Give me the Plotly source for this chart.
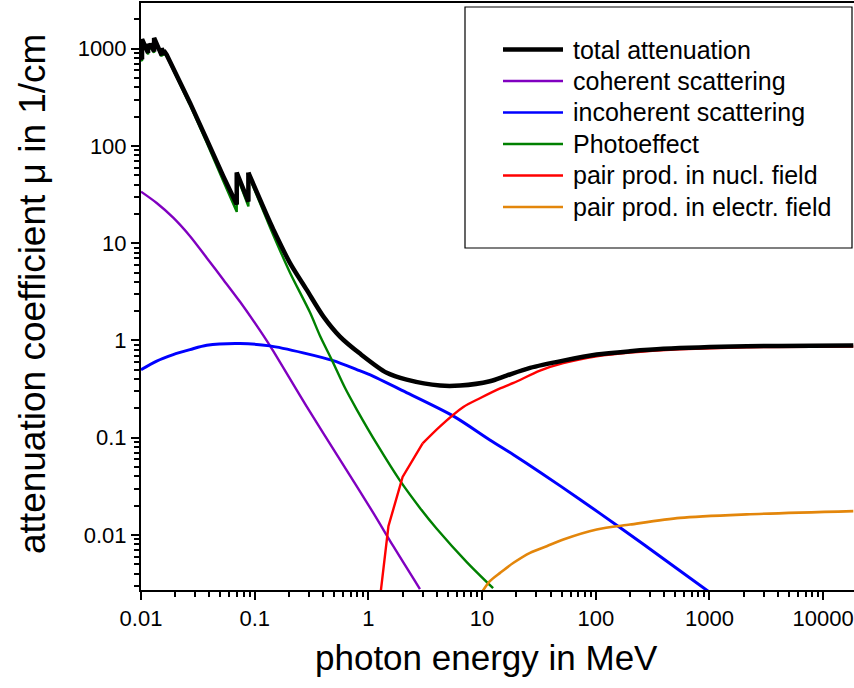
import plotly.graph_objects as go

# ---------------- data (photon energy in MeV, attenuation coefficient in 1/cm) ----------------
E_total = [0.0100, 0.01021, 0.01021, 0.01154, 0.01154, 0.01210, 0.01210, 0.01304, 0.01304,
           0.01520, 0.01520, 0.01586, 0.01586, 0.0168, 0.027, 0.0379, 0.053, 0.0695, 0.0695,
           0.088, 0.088, 0.1276, 0.146, 0.204, 0.286, 0.401, 0.562, 0.843, 1.45, 2.17, 4.27,
           6.40, 11.7, 16.4, 26.4, 51.8, 101.9, 200, 392.6, 2123, 18400]
mu_total = [810, 780, 1250, 905, 1120, 1010, 1130, 935, 1290,
            855, 1010, 870, 960, 867, 277, 116, 48.7, 25, 53.2,
            26.8, 53.2, 19.5, 13.8, 6.28, 3.33, 1.77, 1.097, 0.733, 0.465, 0.396, 0.344,
            0.344, 0.381, 0.436, 0.523, 0.621, 0.716, 0.774, 0.820, 0.871, 0.887]

E_coh = [0.01, 0.01374, 0.0192, 0.027, 0.0379, 0.053, 0.0743, 0.1042, 0.1365, 0.286,
         0.562, 1.104, 1.656, 2.84]
mu_coh = [33.9, 25.9, 18.3, 11.8, 7.06, 4.22, 2.50, 1.42, 0.88, 0.21,
          0.0597, 0.0169, 0.00767, 0.00278]

E_incoh = [0.01, 0.0136, 0.0192, 0.027, 0.0379, 0.0743, 0.136, 0.267, 0.49, 0.79, 1.0, 2.0,
           5.55, 11.7, 19.0, 32.3, 72.6, 163, 393, 975]
mu_incoh = [0.50, 0.611, 0.716, 0.805, 0.893, 0.929, 0.88, 0.746, 0.62, 0.502, 0.45, 0.305,
            0.168, 0.095, 0.0666, 0.0443, 0.0232, 0.01195, 0.00571, 0.00264]

E_photo = [0.0100, 0.01021, 0.01021, 0.01154, 0.01154, 0.01210, 0.01210, 0.01304, 0.01304,
           0.01520, 0.01520, 0.01586, 0.01586, 0.0168, 0.027, 0.0379, 0.053, 0.0695, 0.0695,
           0.088, 0.088, 0.1276, 0.146, 0.204, 0.306, 0.375, 0.475, 0.622, 0.79, 1.22, 1.89,
           2.84, 3.99, 7.33, 12.5]
mu_photo = [776, 746, 1216, 874, 1089, 980, 1100, 907, 1262,
            831, 986, 847, 937, 844, 263, 108, 43.4, 21, 49.5,
            23.9, 50.3, 17.6, 12.1, 5.0, 1.95, 1.12, 0.637, 0.326, 0.195, 0.0818, 0.0364,
            0.0190, 0.0116, 0.00527, 0.00284]

E_pair_nuc = [1.25, 1.5, 2.0, 3.0, 4.27, 6.84, 9.57, 14.4, 18.9, 32.3, 51.8, 101.9, 200,
              551, 2123, 18400]
mu_pair_nuc = [0.002, 0.0123, 0.0395, 0.0875, 0.131, 0.207, 0.255, 0.322, 0.366, 0.49,
               0.584, 0.686, 0.75, 0.81, 0.853, 0.868]

E_pair_el = [10.0, 11.7, 14.4, 18.9, 26.4, 37.0, 51.8, 101.9, 200, 551, 2123, 18400]
mu_pair_el = [0.0026, 0.00335, 0.00408, 0.00518, 0.00656, 0.00767, 0.0090, 0.0114, 0.0128,
              0.0150, 0.0163, 0.0176]

names = ["total attenuation", "coherent scattering", "incoherent scattering",
         "Photoeffect", "pair prod. in nucl. field", "pair prod. in electr. field"]

x_tick_vals = [0.01, 0.1, 1, 10, 100, 1000, 10000]
x_tick_text = ["0.01", "0.1", "1", "10", "100", "1000", "10000"]
y_tick_vals = [0.01, 0.1, 1, 10, 100, 1000]
y_tick_text = ["0.01", "0.1", "1", "10", "100", "1000"]

# ---------------- styles ----------------
colors = ["#000000", "#8000C0", "#0000FF", "#008000", "#FF0000", "#E3860B"]
widths = [4.5, 2.4, 3.0, 2.4, 2.4, 2.6]
FONT = "Liberation Sans, Arial, sans-serif"

series = [
    (E_total, mu_total), (E_coh, mu_coh), (E_incoh, mu_incoh),
    (E_photo, mu_photo), (E_pair_nuc, mu_pair_nuc), (E_pair_el, mu_pair_el),
]
# index where the smooth (edge-free) part of each series begins; before it: straight segments
smooth_from = [20, 0, 0, 20, 3, 0]

fig = go.Figure()
# coloured components first, total on top
for i in [1, 2, 3, 4, 5, 0]:
    E, mu = series[i]
    s = smooth_from[i]
    if s > 0:
        fig.add_trace(go.Scatter(x=E[:s + 1], y=mu[:s + 1], mode="lines", name=names[i],
                                 showlegend=False,
                                 line=dict(color=colors[i], width=widths[i], simplify=False)))
    fig.add_trace(go.Scatter(x=E[s:], y=mu[s:], mode="lines", name=names[i], showlegend=False,
                             line=dict(color=colors[i], width=widths[i], shape="spline",
                                       smoothing=0.8, simplify=False)))

def minor_vals(lo, hi):
    out = []
    for p in range(lo, hi + 1):
        for m in range(2, 10):
            out.append(m * 10.0 ** p)
    return out

W, H = 854, 688
L, R, T, B = 141, 0, 3, 98
pw, ph = W - L - R, H - T - B

def px_x(x):
    return (x - L) / pw

def px_y(y):
    return (H - B - y) / ph

axis_common = dict(type="log", showgrid=False, zeroline=False, showline=True,
                   linecolor="black", linewidth=2, ticks="outside", ticklen=8,
                   tickwidth=2, tickcolor="black",
                   tickfont=dict(family=FONT, size=22, color="black"))

fig.update_layout(
    width=W, height=H, margin=dict(l=L, r=R, t=T, b=B),
    paper_bgcolor="white", plot_bgcolor="white",
    font=dict(family=FONT, color="black"),
    xaxis=dict(**axis_common, range=[-2, 4.271], mirror=True,
               tickmode="array", tickvals=x_tick_vals, ticktext=x_tick_text,
               minor=dict(tickmode="array", tickvals=minor_vals(-2, 4), ticks="outside",
                          ticklen=5, tickwidth=1.5, tickcolor="black", showgrid=False)),
    yaxis=dict(**axis_common, range=[-2.5654, 3.4698],
               tickmode="array", tickvals=y_tick_vals, ticktext=y_tick_text,
               minor=dict(tickmode="array", tickvals=minor_vals(-3, 3), ticks="outside",
                          ticklen=5, tickwidth=1.5, tickcolor="black", showgrid=False)),
)

# axis titles
fig.add_annotation(text="photon energy in MeV", xref="paper", yref="paper",
                   x=px_x(486), y=px_y(657), xanchor="center", yanchor="middle",
                   showarrow=False, font=dict(family=FONT, size=35, color="black"))
fig.add_annotation(text="attenuation coefficient μ in 1/cm", xref="paper", yref="paper",
                   x=px_x(32), y=px_y(294), xanchor="center", yanchor="middle",
                   textangle=-90, showarrow=False,
                   font=dict(family=FONT, size=37, color="black"))

# legend box
fig.add_shape(type="rect", xref="paper", yref="paper",
              x0=px_x(465), x1=px_x(852), y0=px_y(248), y1=px_y(7),
              line=dict(color="black", width=1.2), fillcolor="white", layer="above")
row0, row_step = 49.5, 31.5
for k, nm in enumerate(names):
    yy = row0 + k * row_step
    fig.add_shape(type="line", xref="paper", yref="paper",
                  x0=px_x(503), x1=px_x(563), y0=px_y(yy), y1=px_y(yy),
                  line=dict(color=colors[k], width=widths[k] if k == 0 else 2.6), layer="above")
    fig.add_annotation(text=nm, xref="paper", yref="paper", x=px_x(571), y=px_y(yy),
                       xanchor="left", yanchor="middle", showarrow=False,
                       font=dict(family=FONT, size=25, color="black"))

fig.write_html("out.html")
